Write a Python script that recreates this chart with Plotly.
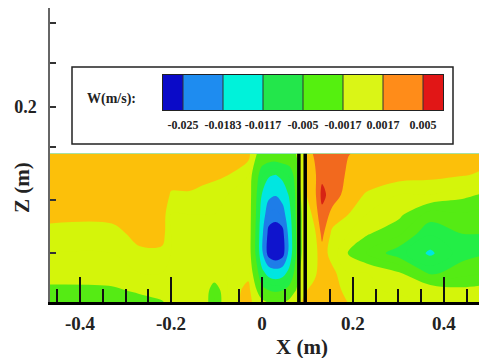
import numpy as np
import plotly.graph_objects as go

# ---------------- data ----------------
x_m = [-0.47, -0.33, -0.27, -0.22, -0.20, -0.16, -0.13, -0.105, -0.075, -0.03,
       -0.01, 0.0, 0.015, 0.03, 0.045, 0.06, 0.072, 0.081,
       0.095, 0.115, 0.132, 0.155, 0.19, 0.23, 0.30, 0.37, 0.44, 0.48]
z_m = [0.0, 0.012, 0.03, 0.05, 0.07, 0.09, 0.11, 0.13, 0.152]

# W (m/s) at each x column, listed from z=0 upward
w_by_column = [
    [-0.0035, -0.0025, 0.0, 0.0, 0.0008, 0.0025, 0.0028, 0.0028, 0.0025],
    [-0.0033, -0.0022, 0.0, 0.0, 0.0008, 0.0025, 0.0028, 0.0028, 0.0025],
    [-0.0028, -0.0012, 0.0, 0.0012, 0.0025, 0.0028, 0.0028, 0.0028, 0.0025],
    [-0.002, 0.0, 0.0, 0.0012, 0.0025, 0.0028, 0.0028, 0.0028, 0.0025],
    [-0.0005, 0.0, 0.0, 0.0, 0.0, 0.0, 0.0015, 0.0025, 0.0025],
    [0.0, 0.0, 0.0, 0.0, 0.0, 0.0, 0.0015, 0.0025, 0.0025],
    [0.0, 0.0, 0.0, 0.0, 0.0, 0.0, 0.0012, 0.0022, 0.0025],
    [-0.0035, -0.003, 0.0, 0.0, 0.0, 0.0, 0.001, 0.002, 0.0025],
    [0.0, 0.0, 0.0, 0.0, 0.0, 0.0, 0.0, 0.0017, 0.0025],
    [0.0028, 0.0026, 0.0008, 0.0, 0.0, 0.0, 0.0, 0.0, 0.0025],
    [0.0, -0.002, -0.0045, -0.008, -0.008, -0.007, -0.006, -0.0045, -0.002],
    [-0.001, -0.004, -0.01, -0.017, -0.017, -0.015, -0.012, -0.008, -0.003],
    [-0.002, -0.005, -0.014, -0.028, -0.027, -0.022, -0.017, -0.011, -0.003],
    [-0.002, -0.006, -0.015, -0.031, -0.028, -0.023, -0.018, -0.012, -0.003],
    [-0.002, -0.005, -0.014, -0.028, -0.027, -0.021, -0.016, -0.01, -0.003],
    [-0.001, -0.004, -0.01, -0.016, -0.016, -0.014, -0.011, -0.008, -0.003],
    [0.0, -0.002, -0.0045, -0.007, -0.007, -0.006, -0.0055, -0.0045, -0.002],
    [0.001, -0.001, -0.002, -0.003, -0.003, -0.003, -0.003, -0.002, -0.001],
    [0.0025, 0.0015, 0.0, 0.0, 0.0, 0.0, 0.0015, 0.0022, 0.0026],
    [0.003, 0.0024, 0.0012, 0.001, 0.0012, 0.0024, 0.0028, 0.003, 0.0035],
    [0.003, 0.003, 0.0028, 0.0027, 0.0038, 0.0045, 0.0055, 0.0046, 0.0046],
    [0.003, 0.0028, 0.0022, 0.0008, 0.0012, 0.0028, 0.0042, 0.0045, 0.0045],
    [0.0016, 0.0008, 0.0, -0.0018, 0.0, 0.0017, 0.0026, 0.003, 0.0034],
    [0.0015, 0.0005, 0.0, -0.0035, -0.0015, 0.0, 0.0015, 0.0028, 0.003],
    [0.0008, -0.0005, -0.0015, -0.007, -0.003, -0.0012, 0.0, 0.0025, 0.0028],
    [0.0, 0.0, -0.006, -0.0125, -0.008, -0.004, 0.0, 0.0022, 0.0026],
    [0.0, -0.0012, -0.004, -0.0065, -0.005, -0.0035, -0.0012, 0.0018, 0.0024],
    [0.0, -0.001, -0.0035, -0.0055, -0.005, -0.004, -0.0018, 0.0015, 0.0024],
]

level_values = [-0.025, -0.0183, -0.0117, -0.005, -0.0017, 0.0017, 0.005]
level_labels = ["-0.025", "-0.0183", "-0.0117", "-0.005", "-0.0017", "0.0017", "0.005"]

wall_x = [0.081, 0.095]

x_tick_vals = [-0.4, -0.2, 0, 0.2, 0.4]
x_tick_text = ["-0.4", "-0.2", "0", "0.2", "0.4"]
x_minor_vals = [-0.45, -0.35, -0.3, -0.25, -0.05, 0.05, 0.15, 0.25, 0.3, 0.35, 0.45]
y_tick_vals = [0.0503, 0.1046, 0.159, 0.2, 0.245, 0.286]
y_tick_text = ["", "", "", "0.2", "", ""]

# ---------------- colours ----------------
legend_colors = ["rgb(10,10,200)", "rgb(30,140,240)", "rgb(0,242,218)", "rgb(35,230,75)",
                 "rgb(85,240,15)", "rgb(218,245,22)", "rgb(255,140,25)", "rgb(225,22,22)"]
field_colors = ["rgb(15,20,205)",
                "rgb(30,125,232)", "rgb(30,125,232)",
                "rgb(0,230,225)", "rgb(0,230,225)",
                "rgb(35,238,70)", "rgb(35,238,70)",
                "rgb(85,235,20)", "rgb(85,235,20)",
                "rgb(212,245,10)", "rgb(212,245,10)",
                "rgb(252,192,10)", "rgb(242,105,30)",
                "rgb(215,35,20)"]

# ---------------- processing ----------------
W = np.array(w_by_column, dtype=float).T  # rows = z, cols = x
lv = np.array(level_values)
n_lv = len(lv)
idx = np.arange(1, n_lv + 1, dtype=float)
U = np.interp(W, lv, idx)
lo = W < lv[0]
hi = W > lv[-1]
U[lo] = 1 + (W[lo] - lv[0]) / (lv[1] - lv[0])
U[hi] = n_lv + (W[hi] - lv[-1]) / (lv[-1] - lv[-2])

n_f = len(field_colors)
field_scale = [[i / (n_f - 1), c] for i, c in enumerate(field_colors)]
n_l = len(legend_colors)
legend_scale = [[i / (n_l - 1), c] for i, c in enumerate(legend_colors)]

serif = "Liberation Serif"
W_, H_ = 479, 358
L_, R_, T_, B_ = 50, 0, 8, 56
pw = W_ - L_ - R_
ph = H_ - T_ - B_
def px_x(p):
    return (p - L_) / pw
def px_y(p):
    return (H_ - B_ - p) / ph

fig = go.Figure()

# main field
fig.add_trace(go.Contour(
    x=x_m, y=z_m, z=U,
    autocontour=False,
    contours=dict(start=1, end=n_lv, size=0.5, coloring="fill", showlines=False),
    line=dict(width=0),
    colorscale=field_scale,
    showscale=False,
    hoverinfo="skip",
))

# plate (double wall)
z_top = z_m[-1]
wx, wz = [], []
for xv in wall_x:
    wx += [xv, xv, None]
    wz += [z_m[0], z_top, None]
fig.add_trace(go.Scatter(x=wx, y=wz, mode="lines",
                         line=dict(color="black", width=3.5),
                         hoverinfo="skip", showlegend=False))

# colour legend: level index across its own small axis
leg_u = [0.5, n_lv + 0.5]
fig.add_trace(go.Contour(
    x=leg_u, y=[0, 1], z=[leg_u, leg_u],
    xaxis="x2", yaxis="y2",
    autocontour=False,
    contours=dict(start=1, end=n_lv, size=1, coloring="fill", showlines=True),
    line=dict(color="#333", width=1, smoothing=0),
    colorscale=legend_scale,
    showscale=False,
    hoverinfo="skip",
))

fig.update_layout(
    width=W_, height=H_,
    margin=dict(l=L_, r=R_, t=T_, b=B_, pad=0, autoexpand=False),
    paper_bgcolor="white",
    plot_bgcolor="rgba(0,0,0,0)",
    showlegend=False,
    xaxis=dict(
        domain=[0, 1], anchor="y",
        range=[-0.466, 0.477], showgrid=False, zeroline=False,
        showline=True, linecolor="black", linewidth=2.5,
        tickmode="array", tickvals=x_tick_vals, ticktext=x_tick_text,
        ticks="inside", ticklen=25, tickwidth=2, tickcolor="#111",
        ticklabelstandoff=2,
        tickfont=dict(family=serif, size=19, color="#222", weight="bold"),
        minor=dict(tickmode="array", tickvals=x_minor_vals, ticks="inside",
                   ticklen=13, tickwidth=1.5, tickcolor="#111", showgrid=False),
    ),
    yaxis=dict(
        domain=[0, 1], anchor="x",
        range=[0, 0.3015], showgrid=False, zeroline=False,
        showline=True, linecolor="#666", linewidth=1.5,
        tickmode="array", tickvals=y_tick_vals, ticktext=y_tick_text,
        ticks="inside", ticklen=6, tickwidth=1.5, tickcolor="#333",
        ticklabelstandoff=8,
        tickfont=dict(family=serif, size=18, color="#222", weight="bold"),
    ),
    xaxis2=dict(
        domain=[px_x(163), px_x(443)], anchor="y2",
        range=leg_u, showgrid=False, zeroline=False,
        showline=True, mirror=True, linecolor="#222", linewidth=1,
        tickmode="array", tickvals=list(idx), ticktext=level_labels,
        ticks="", ticklabelstandoff=4,
        tickfont=dict(family=serif, size=12, color="#222", weight="bold"),
    ),
    yaxis2=dict(
        domain=[px_y(110), px_y(75)], anchor="x2",
        range=[0, 1], showgrid=False, zeroline=False,
        showline=True, mirror=True, linecolor="#222", linewidth=1,
        showticklabels=False, ticks="",
    ),
    shapes=[dict(type="rect", xref="paper", yref="paper",
                 x0=px_x(72), x1=px_x(453), y0=px_y(144), y1=px_y(67),
                 line=dict(color="#222", width=1.5), fillcolor="white", layer="below")],
    annotations=[
        dict(text="X (m)", xref="paper", yref="paper", x=px_x(302), y=px_y(347),
             xanchor="center", yanchor="middle", showarrow=False,
             font=dict(family=serif, size=21, color="#222", weight="bold")),
        dict(text="Z (m)", xref="paper", yref="paper", x=px_x(22), y=px_y(188),
             xanchor="center", yanchor="middle", showarrow=False, textangle=-90,
             font=dict(family=serif, size=21, color="#222", weight="bold")),
        dict(text="W(m/s):", xref="paper", yref="paper", x=px_x(111), y=px_y(99),
             xanchor="center", yanchor="middle", showarrow=False,
             font=dict(family=serif, size=14, color="#222", weight="bold")),
    ],
)

fig.write_html("out.html")
